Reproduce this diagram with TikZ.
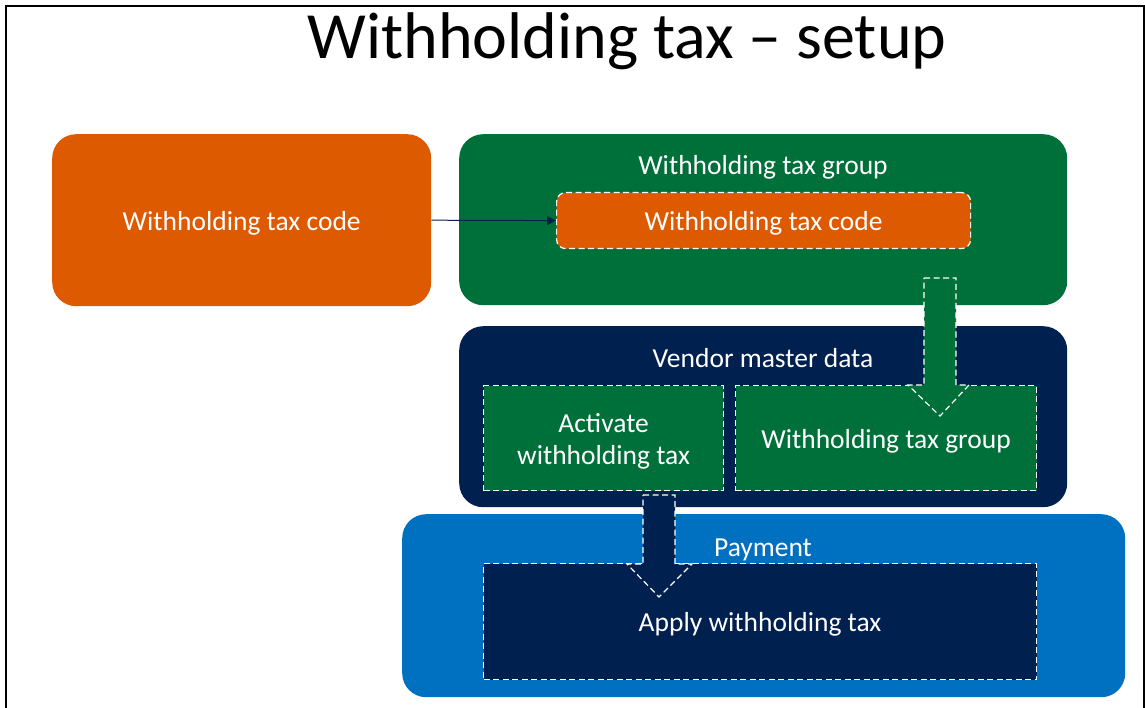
\documentclass[tikz,border=0pt]{standalone}
\usepackage{fontspec}
\setmainfont{Carlito}
\usetikzlibrary{arrows.meta}
\definecolor{cOrange}{HTML}{DD5A00}
\definecolor{cGreen}{HTML}{00703A}
\definecolor{cNavy}{HTML}{00204F}
\definecolor{cBlue}{HTML}{0070C0}
\tikzset{
  panel/.style={rounded corners=24pt, inner sep=0pt, anchor=north west},
  dbox/.style={draw=white, dashed, dash pattern=on 6pt off 3.5pt, line width=1.2pt, inner sep=0pt, anchor=north west},
  wtxt/.style={text=white, font=\fontsize{27.5}{32}\selectfont, align=center, inner sep=0pt},
  ctxt/.style={wtxt, yshift=-3pt},
  blockarrow/.style={draw=white, dash pattern=on 6pt off 3.5pt, line width=1.2pt, line join=miter},
}
\begin{document}
\begin{tikzpicture}[x=1pt,y=-1pt]
\useasboundingbox (0,0) rectangle (1145,708);
% frame
\draw[line width=2pt] (6,710) -- (6,6) -- (1143.5,6) -- (1143.5,710);
% title
\node[anchor=base, font=\fontsize{66}{70}\selectfont, inner sep=0pt] (title) at (627,59) {Withholding tax – setup};

% panels
\node[panel, fill=cOrange, minimum width=379pt, minimum height=172pt] (code) at (52,134) {};
\node[ctxt] (codetxt) at (code.center) {Withholding tax code};

\node[panel, fill=cGreen, minimum width=608pt, minimum height=171pt] (group) at (459,134) {};
\node[wtxt, anchor=base] (grouptxt) at (763,175) {Withholding tax group};
\node[dbox, fill=cOrange, rounded corners=9pt, minimum width=414pt, minimum height=56pt] (inner) at (556,192) {};
\node[ctxt] (innertxt) at (inner.center) {Withholding tax code};

\node[panel, fill=cNavy, minimum width=608pt, minimum height=181pt] (vendor) at (459,326) {};
\node[wtxt, anchor=base] (vendortxt) at (763,367) {Vendor master data};
\node[dbox, fill=cGreen, minimum width=240pt, minimum height=105pt] (activate) at (483,385) {};
\node[ctxt] (activatetxt) at (activate.center) {Activate\\withholding tax};
\node[dbox, fill=cGreen, minimum width=301pt, minimum height=105pt] (vgroup) at (735,385) {};
\node[ctxt] (vgrouptxt) at (vgroup.center) {Withholding tax group};

\node[panel, fill=cBlue, minimum width=723pt, minimum height=183pt] (payment) at (402,514) {};
\node[wtxt, anchor=base] (paymenttxt) at (763,556) {Payment};
\node[dbox, fill=cNavy, minimum width=553pt, minimum height=116pt] (apply) at (483,563) {};
\node[ctxt] (applytxt) at (apply.center) {Apply withholding tax};

% connector
\draw[cNavy, line width=1pt, -{Triangle[length=9pt,width=9pt]}] (code.east) -- (inner.west);

% block arrows
\draw[blockarrow, fill=cGreen] (924,278) -- (956,278) -- (956,385) -- (969,385) -- (940,416) -- (908,385) -- (924,385) -- cycle;
\draw[blockarrow, fill=cNavy] (643,495) -- (675,495) -- (675,564) -- (692,564) -- (659,597) -- (627,564) -- (643,564) -- cycle;
\end{tikzpicture}
\end{document}
